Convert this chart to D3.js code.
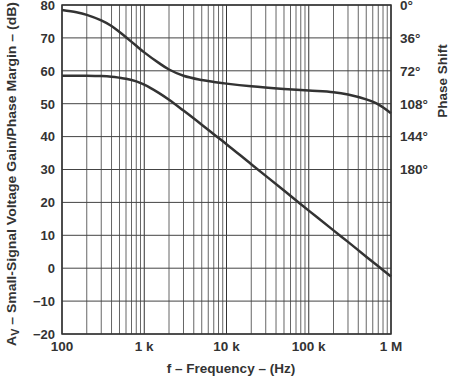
<!DOCTYPE html>
<html>
<head>
<meta charset="utf-8">
<script src="https://cdn.jsdelivr.net/npm/d3@7"></script>
<style>
  body { margin: 0; background: #fff; }
  text { font-family: "Liberation Sans", Arial, sans-serif; font-weight: bold; fill: #333; }
</style>
</head>
<body>
<div id="chart"></div>
<script>
// data
var freqs = [100, 150, 200, 300, 400, 500, 600, 800, 1000, 1500, 2000, 3000, 5000, 7000, 10000, 20000, 50000, 100000, 200000, 300000, 500000, 700000, 1000000];
var gain = [58.5, 58.5, 58.5, 58.4, 58.2, 57.9, 57.6, 56.8, 55.8, 53.3, 51.2, 47.9, 43.6, 40.7, 37.7, 31.6, 23.6, 17.5, 11.5, 8.0, 3.5, 0.6, -2.5];
var phaseMargin = [78.5, 77.8, 77.0, 75.3, 73.6, 71.8, 70.2, 67.6, 65.6, 62.4, 60.4, 58.5, 57.2, 56.6, 56.1, 55.3, 54.5, 54.0, 53.5, 52.8, 51.3, 49.8, 47.1];

var yTicks = [-20, -10, 0, 10, 20, 30, 40, 50, 60, 70, 80];
var xTicks = [100, 1000, 10000, 100000, 1000000];
var xTickLabels = ["100", "1 k", "10 k", "100 k", "1 M"];
var phaseTickPos = [80, 70, 60, 50, 40, 30];
var phaseTickLabels = ["0°", "36°", "72°", "108°", "144°", "180°"];

function init(){
    var w = 449, h = 376;
    var left = 62, right = 391, top = 5, bottom = 334;

    var svg = d3.select("#chart").append("svg")
        .attr("width", w).attr("height", h);

    var x = d3.scaleLog().domain([100, 1e6]).range([left, right]);
    var y = d3.scaleLinear().domain([-20, 80]).range([bottom, top]);

    // vertical grid, decades dark, minors lighter
    var vlines = [];
    for (var d = 100; d < 1e6; d *= 10) {
        for (var k = 1; k <= 9; k++) vlines.push({f: d * k, major: k == 1});
    }
    vlines.push({f: 1e6, major: true});
    svg.selectAll("line.v").data(vlines).enter().append("line")
        .attr("x1", function(d){ return x(d.f); })
        .attr("x2", function(d){ return x(d.f); })
        .attr("y1", top).attr("y2", bottom)
        .attr("stroke", function(d){ return d.major ? "#333" : "#666"; })
        .attr("stroke-width", 1);

    // horizontal grid
    svg.selectAll("line.h").data(yTicks).enter().append("line")
        .attr("x1", left).attr("x2", right)
        .attr("y1", function(d){ return y(d); })
        .attr("y2", function(d){ return y(d); })
        .attr("stroke", "#444").attr("stroke-width", 1);

    // frame
    svg.append("rect")
        .attr("x", left).attr("y", top)
        .attr("width", right - left).attr("height", bottom - top)
        .attr("fill", "none").attr("stroke", "#333").attr("stroke-width", 1.5);

    var line = d3.line()
        .x(function(d){ return x(d[0]); })
        .y(function(d){ return y(d[1]); })
        .curve(d3.curveCatmullRom);

    svg.append("path")
        .attr("d", line(d3.zip(freqs, gain)))
        .attr("fill", "none").attr("stroke", "#333").attr("stroke-width", 2.5);
    svg.append("path")
        .attr("d", line(d3.zip(freqs, phaseMargin)))
        .attr("fill", "none").attr("stroke", "#333").attr("stroke-width", 2.5);

    // left tick labels
    svg.selectAll("text.yl").data(yTicks).enter().append("text")
        .attr("x", 55).attr("y", function(d){ return y(d) + 4.8; })
        .attr("text-anchor", "end").attr("font-size", 13)
        .text(function(d){ return d < 0 ? "\u2212" + Math.abs(d) : d; });

    // right phase labels
    svg.selectAll("text.yr").data(phaseTickPos).enter().append("text")
        .attr("x", 400).attr("y", function(d){ return y(d) + 4.8; })
        .attr("font-size", 13.5)
        .text(function(d, i){ return phaseTickLabels[i]; });

    // x tick labels
    svg.selectAll("text.xl").data(xTicks).enter().append("text")
        .attr("x", function(d){ return x(d); }).attr("y", 351)
        .attr("text-anchor", "middle").attr("font-size", 13.5)
        .text(function(d, i){ return xTickLabels[i]; });

    // axis titles
    svg.append("text")
        .attr("x", 231).attr("y", 373)
        .attr("text-anchor", "middle").attr("font-size", 13.5)
        .text("f \u2013 Frequency \u2013 (Hz)");

    var yt = svg.append("text")
        .attr("transform", "translate(16,174) rotate(-90)")
        .attr("text-anchor", "middle").attr("font-size", 13)
        .attr("textLength", 344).attr("lengthAdjust", "spacingAndGlyphs");
    yt.append("tspan").text("A");
    yt.append("tspan").attr("font-size", 10).attr("dy", 3).text("V");
    yt.append("tspan").attr("dy", -3).text(" \u2013 Small-Signal Voltage Gain/Phase Margin \u2013 (dB)");

    svg.append("text")
        .attr("transform", "translate(447,81) rotate(-90)")
        .attr("text-anchor", "middle").attr("font-size", 13.5)
        .text("Phase Shift");
}
window.onload = init;
</script>
</body>
</html>
